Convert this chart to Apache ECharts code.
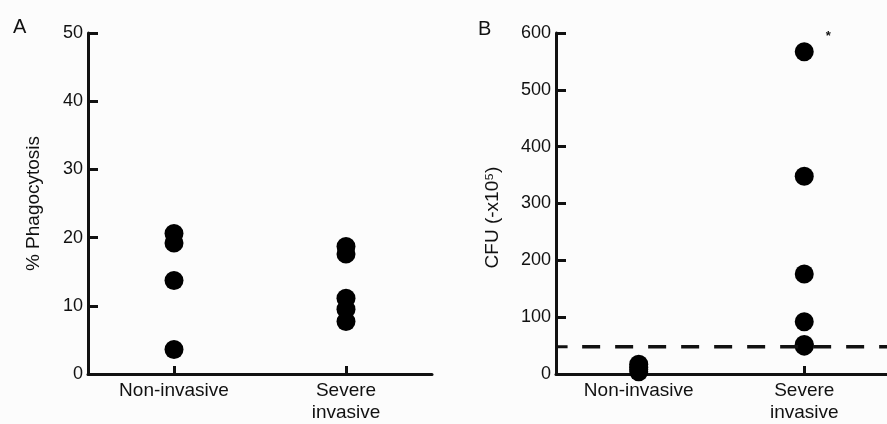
<!DOCTYPE html>
<html><head><meta charset="utf-8">
<script src="https://cdn.jsdelivr.net/npm/echarts@6/dist/echarts.min.js"></script>
<style>html,body{margin:0;padding:0;background:#fcfcfc}#c{width:887px;height:424px}</style>
</head><body><div id="c"></div>
<script>
const categories = ['Non-invasive', 'Severe\ninvasive'];
const phagoNon = [20.6, 19.2, 13.7, 3.6];
const phagoSevere = [18.7, 17.6, 11.1, 9.5, 7.7];
const cfuNon = [17, 12, 8, 4];
const cfuSevere = [567, 348, 176, 92, 52, 49];
const cutoff = 48;
const phagoTicks = { min: 0, max: 50, interval: 10 };
const cfuTicks = { min: 0, max: 600, interval: 100 };

const FONT = 'Liberation Sans, Arial, Helvetica, sans-serif';
const INK = '#111';
const chart = echarts.init(document.getElementById('c'));

function pts(cat, arr) { return arr.map(v => [cat, v]); }

const yBase = {
  type: 'value',
  axisLine: { show: true, lineStyle: { color: INK, width: 3 } },
  axisTick: { show: true, inside: true, length: 10, lineStyle: { color: INK, width: 3 } },
  axisLabel: { color: INK, fontFamily: FONT, fontSize: 18, margin: 5 },
  splitLine: { show: false },
  nameLocation: 'middle',
  nameTextStyle: { color: INK, fontFamily: FONT, fontSize: 19 }
};
const xBase = {
  type: 'category',
  data: categories,
  boundaryGap: true,
  axisLine: { show: true, lineStyle: { color: INK, width: 3 } },
  axisTick: { show: true, inside: true, alignWithLabel: true, length: 8, lineStyle: { color: INK, width: 3 } },
  axisLabel: { color: INK, fontFamily: FONT, fontSize: 19, margin: 6, lineHeight: 22 }
};

chart.setOption({
  backgroundColor: '#fcfcfc',
  animation: false,
  title: [
    { text: 'A', left: 8, top: 12, textStyle: { color: INK, fontFamily: FONT, fontSize: 20, fontWeight: 'normal' } },
    { text: 'B', left: 473, top: 14, textStyle: { color: INK, fontFamily: FONT, fontSize: 20, fontWeight: 'normal' } }
  ],
  grid: [
    { left: 88, top: 33, width: 344, bottom: 48 },
    { left: 556, top: 33, width: 342, bottom: 49 }
  ],
  xAxis: [
    Object.assign({}, xBase, { gridIndex: 0 }),
    Object.assign({}, xBase, { gridIndex: 1 }),
    { type: 'value', gridIndex: 1, min: 0, max: 1, show: false, position: 'top' }
  ],
  yAxis: [
    Object.assign({}, yBase, { gridIndex: 0, min: phagoTicks.min, max: phagoTicks.max, interval: phagoTicks.interval, name: '% Phagocytosis', nameGap: 45 }),
    Object.assign({}, yBase, { gridIndex: 1, min: cfuTicks.min, max: cfuTicks.max, interval: cfuTicks.interval, name: 'CFU (-x10⁵)', nameGap: 54,
      nameTextStyle: { color: INK, fontFamily: FONT, fontSize: 19, padding: [0, 28, 0, 0] } })
  ],
  series: [
    { type: 'scatter', xAxisIndex: 0, yAxisIndex: 0, symbolSize: 19, itemStyle: { color: '#000', opacity: 1 },
      data: pts(categories[0], phagoNon).concat(pts(categories[1], phagoSevere)) },
    { type: 'scatter', xAxisIndex: 1, yAxisIndex: 1, symbolSize: 19, itemStyle: { color: '#000', opacity: 1 },
      data: pts(categories[0], cfuNon).concat(pts(categories[1], cfuSevere).map((d, i) => i === 0 ? {
        value: d, label: { show: true, formatter: '*', position: [31, -12], color: INK, fontSize: 13, fontWeight: 'bold', fontFamily: FONT } } : d)) },
    { type: 'line', xAxisIndex: 2, yAxisIndex: 1, symbol: 'none', silent: true,
      lineStyle: { color: INK, width: 3.5, type: [18, 15] },
      data: [[0.079, cutoff], [1, cutoff]] },
    { type: 'line', xAxisIndex: 2, yAxisIndex: 1, symbol: 'none', silent: true,
      lineStyle: { color: INK, width: 3 },
      data: [[0, cutoff], [0.035, cutoff]] }
  ]
});
</script></body></html>
